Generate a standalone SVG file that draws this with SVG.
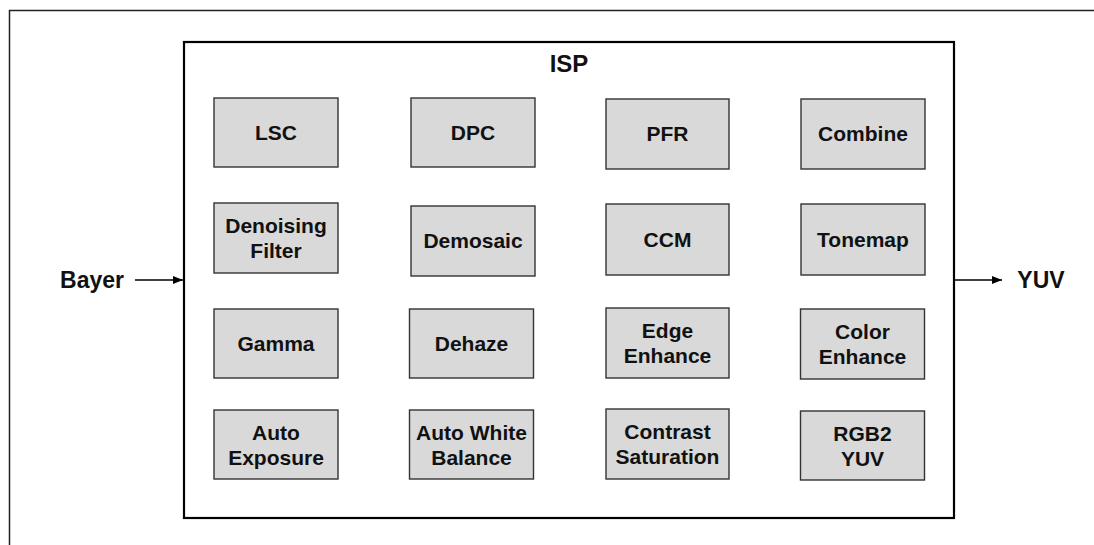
<svg xmlns="http://www.w3.org/2000/svg" width="1094" height="545" viewBox="0 0 1094 545">
<style>
  .frame { fill: none; stroke: #222; stroke-width: 1.5; }
  .isp { fill: #fff; stroke: #000; stroke-width: 2.2; }
  .box { fill: #d9d9d9; stroke: #333; stroke-width: 1.4; }
  .lbl { font-family: "Liberation Sans", Arial, sans-serif; font-weight: bold; font-size: 21px; fill: #111; text-anchor: middle; }
  .io { font-family: "Liberation Sans", Arial, sans-serif; font-weight: bold; font-size: 23px; fill: #111; text-anchor: middle; }
  .title { font-family: "Liberation Sans", Arial, sans-serif; font-weight: bold; font-size: 24px; fill: #111; text-anchor: middle; }
  .conn { stroke: #000; stroke-width: 1.5; fill: none; }
</style>
<defs>
  <marker id="arr" viewBox="0 0 10 8" refX="10" refY="4" markerWidth="10" markerHeight="8" markerUnits="userSpaceOnUse" orient="auto">
    <path d="M0,0 L10,4 L0,8 z" fill="#000"/>
  </marker>
</defs>
<rect width="1094" height="545" fill="#fff"/>
<path class="frame" d="M9.5,545 V10.5 H1094"/>

<g id="isp">
  <rect class="isp" x="184" y="42" width="770" height="476"/>
  <text class="title" x="569" y="72">ISP</text>
</g>

<g id="bayer"><text class="io" x="92" y="288">Bayer</text></g>
<g id="yuv"><text class="io" x="1041" y="288">YUV</text></g>

<g id="connectors">
  <line class="conn" x1="135" y1="280" x2="183" y2="280" marker-end="url(#arr)"/>
  <line class="conn" x1="955" y1="280" x2="1002" y2="280" marker-end="url(#arr)"/>
</g>

<g id="lsc"><rect class="box" x="214" y="98" width="124" height="69"/><text class="lbl" x="276" y="140">LSC</text></g>
<g id="dpc"><rect class="box" x="411" y="98" width="124" height="69"/><text class="lbl" x="473" y="140">DPC</text></g>
<g id="pfr"><rect class="box" x="606" y="99" width="123" height="70"/><text class="lbl" x="667.5" y="141">PFR</text></g>
<g id="combine"><rect class="box" x="801" y="99" width="124" height="70"/><text class="lbl" x="863" y="141">Combine</text></g>

<g id="denoising"><rect class="box" x="214" y="203" width="124" height="70"/><text class="lbl" x="276" y="233">Denoising</text><text class="lbl" x="276" y="258">Filter</text></g>
<g id="demosaic"><rect class="box" x="411" y="206" width="124" height="70"/><text class="lbl" x="473" y="248">Demosaic</text></g>
<g id="ccm"><rect class="box" x="606" y="204" width="123" height="71"/><text class="lbl" x="667.5" y="247">CCM</text></g>
<g id="tonemap"><rect class="box" x="801" y="204" width="124" height="71"/><text class="lbl" x="863" y="247">Tonemap</text></g>

<g id="gamma"><rect class="box" x="214" y="309" width="124" height="69"/><text class="lbl" x="276" y="351">Gamma</text></g>
<g id="dehaze"><rect class="box" x="409.5" y="309" width="124" height="69"/><text class="lbl" x="471.5" y="351">Dehaze</text></g>
<g id="edge"><rect class="box" x="606" y="308" width="123" height="70"/><text class="lbl" x="667.5" y="338">Edge</text><text class="lbl" x="667.5" y="363">Enhance</text></g>
<g id="color"><rect class="box" x="800.5" y="309" width="124" height="70"/><text class="lbl" x="862.5" y="339">Color</text><text class="lbl" x="862.5" y="364">Enhance</text></g>

<g id="ae"><rect class="box" x="214" y="410" width="124" height="69"/><text class="lbl" x="276" y="440">Auto</text><text class="lbl" x="276" y="465">Exposure</text></g>
<g id="awb"><rect class="box" x="409.5" y="410" width="124" height="69"/><text class="lbl" x="471.5" y="440">Auto White</text><text class="lbl" x="471.5" y="465">Balance</text></g>
<g id="contrast"><rect class="box" x="606" y="409" width="123" height="70"/><text class="lbl" x="667.5" y="439">Contrast</text><text class="lbl" x="667.5" y="464">Saturation</text></g>
<g id="rgb2yuv"><rect class="box" x="800.5" y="411" width="124" height="69"/><text class="lbl" x="862.5" y="441">RGB2</text><text class="lbl" x="862.5" y="466">YUV</text></g>
</svg>
